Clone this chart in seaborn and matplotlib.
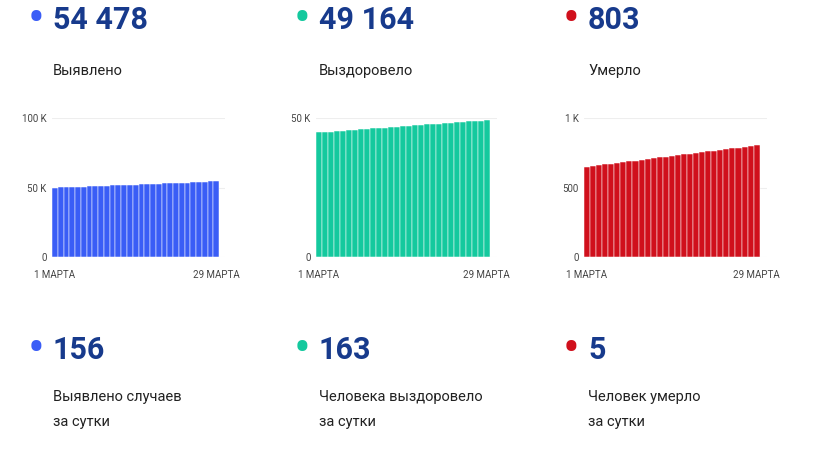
import matplotlib
matplotlib.use("Agg")
import matplotlib.pyplot as plt
import seaborn as sns
import pandas as pd

sns.set_style("white")
plt.rcParams['font.family'] = ['Roboto', 'DejaVu Sans']

days = list(range(1, 30))
cases = [49850, 50020, 50190, 50350, 50520, 50680, 50840, 51000, 51160, 51320,
         51480, 51640, 51800, 51960, 52120, 52280, 52440, 52600, 52760, 52920,
         53080, 53240, 53400, 53560, 53720, 53880, 54020, 54322, 54478]
recovered = [44800, 44960, 45120, 45280, 45440, 45600, 45760, 45920, 46080, 46240,
             46400, 46560, 46720, 46880, 47040, 47200, 47360, 47520, 47680, 47840,
             48000, 48160, 48320, 48480, 48640, 48760, 48880, 49001, 49164]
deaths = [648, 654, 660, 666, 671, 677, 683, 689, 694, 700,
          705, 711, 716, 722, 727, 733, 738, 744, 749, 755,
          760, 766, 771, 776, 782, 787, 792, 798, 803]

totals = ["54 478", "49 164", "803"]
total_labels = ["Выявлено", "Выздоровело", "Умерло"]
daily = ["156", "163", "5"]
daily_labels = ["Выявлено случаев\nза сутки", "Человека выздоровело\nза сутки", "Человек умерло\nза сутки"]
colors = ["#3a5df6", "#14c99e", "#d0101c"]
ymax = [100000, 50000, 1000]
yticks = [[0, 50000, 100000], [0, 50000], [0, 500, 1000]]
ytlabels = [["0", "50 K", "100 K"], ["0", "50 K"], ["0", "500", "1 K"]]
series = [cases, recovered, deaths]

W, H = 820, 461
fig = plt.figure(figsize=(8.2, 4.61), dpi=100)
navy = "#173a8c"

lefts = [52, 316, 584]
widths = [173, 181, 183]
for i in range(3):
    ax = fig.add_axes([lefts[i] / W, 1 - 257 / H, widths[i] / W, 139 / H])
    df = pd.DataFrame({"day": days, "v": series[i]})
    sns.barplot(data=df, x="day", y="v", color=colors[i], width=1.0,
                saturation=1, edgecolor="white", linewidth=0.35, ax=ax)
    ax.set_ylim(0, ymax[i])
    ax.set_yticks(yticks[i])
    ax.set_yticklabels(ytlabels[i], fontsize=7, color="#444444")
    ax.set_xticks([0, 28])
    ax.set_xticklabels(["1 МАРТА", "29 МАРТА"], fontsize=7, color="#444444")
    ax.set_xlim(-0.5, 28.5 + (1 if i == 0 else 1.2))
    ax.set_xlabel("")
    ax.set_ylabel("")
    ax.yaxis.grid(True, color="#eeeeee", lw=0.8)
    ax.set_axisbelow(True)
    ax.tick_params(axis="x", length=0, pad=9)
    ax.tick_params(axis="y", length=0, pad=4)
    sns.despine(ax=ax, left=True, bottom=True)

    x0 = [28, 294, 563][i]
    fig.text(x0 / W, 1 - 20 / H, "•", color=colors[i], fontsize=36, va="center", ha="left")
    fig.text((x0 + 25) / W, 1 - 20 / H, totals[i], color=navy, fontsize=22,
             fontweight="bold", va="center", ha="left")
    fig.text((x0 + 25) / W, 1 - 71 / H, total_labels[i], color="#222222", fontsize=10.5,
             va="center", ha="left")
    fig.text(x0 / W, 1 - 350 / H, "•", color=colors[i], fontsize=36, va="center", ha="left")
    fig.text((x0 + 25) / W, 1 - 350 / H, daily[i], color=navy, fontsize=22,
             fontweight="bold", va="center", ha="left")
    fig.text((x0 + 25) / W, 1 - 390 / H, daily_labels[i], color="#222222", fontsize=10.5,
             va="top", ha="left", linespacing=2.0)

fig.savefig("out.png", dpi=100)
